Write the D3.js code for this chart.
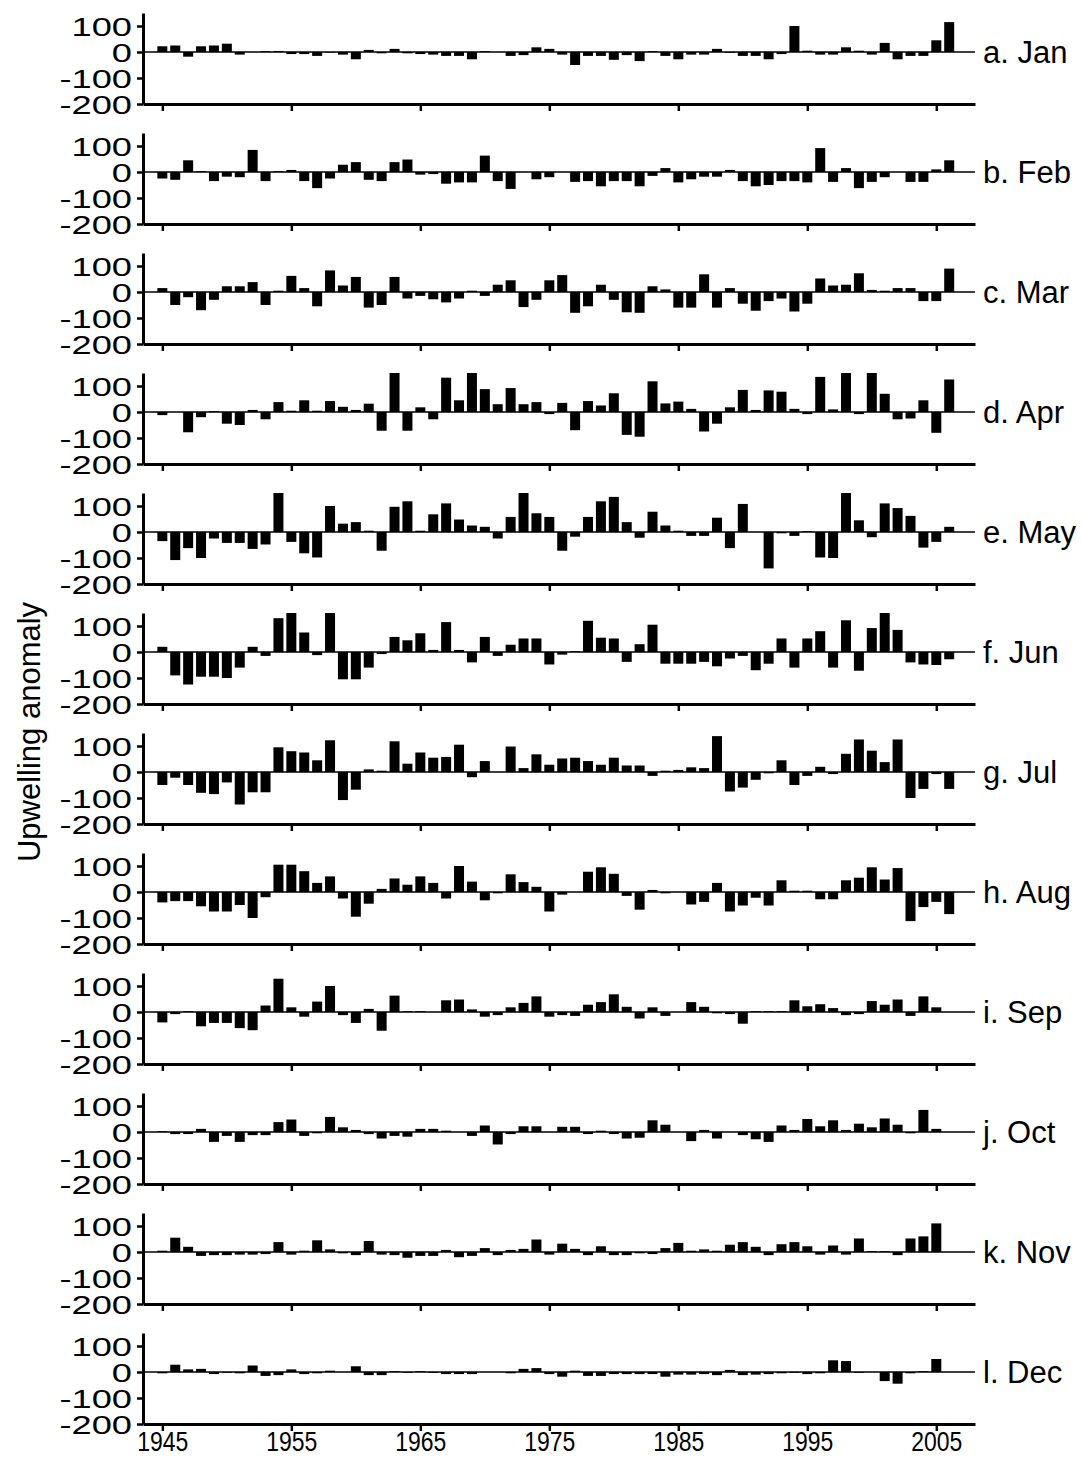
<!DOCTYPE html>
<html>
<head>
<meta charset="utf-8">
<script src="https://cdn.jsdelivr.net/npm/d3@7"></script>
<style>
  html, body { margin: 0; padding: 0; background: #fff; }
  svg { display: block; }
  text { font-family: "Liberation Sans", Arial, sans-serif; fill: #000; }
</style>
</head>
<body>
<svg id="chart" width="1082" height="1458"></svg>
<script>
// Monthly upwelling anomalies, one value per year from 1945 to 2006
const firstYear = 1945;
const jan = [22,25,-18,22,25,32,-10,0,3,4,-8,-8,-15,-2,-10,-28,8,-5,12,-5,-8,-10,-15,-15,-28,3,0,-15,-12,18,12,-10,-50,-15,-15,-30,-12,-35,3,-15,-28,-10,-10,12,-3,-15,-15,-28,-8,100,5,-10,-10,18,5,-10,35,-28,-15,-15,45,115];
const feb = [-25,-30,45,3,-35,-18,-20,85,-35,3,8,-35,-62,-25,28,38,-30,-35,38,48,-10,-8,-45,-40,-40,63,-35,-65,0,-28,-20,0,-38,-35,-55,-35,-35,-55,-15,15,-40,-28,-18,-18,8,-35,-55,-50,-35,-35,-40,92,-38,15,-62,-38,-20,0,-38,-38,10,45];
const mar = [15,-50,-20,-70,-30,22,22,38,-50,5,62,15,-55,83,25,58,-60,-50,58,-25,-15,-28,-40,-25,5,-15,28,45,-58,-30,45,65,-80,-55,28,-30,-78,-80,22,10,-60,-60,68,-60,15,-45,-72,-35,-25,-75,-45,52,25,28,72,8,5,15,15,-35,-35,90];
const apr = [-12,0,-78,-20,3,-45,-50,8,-28,38,5,45,5,42,20,8,32,-72,160,-72,18,-28,132,45,160,88,30,92,30,38,-8,35,-70,42,25,72,-88,-95,118,33,40,12,-75,-45,18,85,8,83,78,12,-8,135,10,160,-8,160,70,-28,-25,45,-80,125];
const may = [-35,-108,-62,-100,-25,-42,-42,-65,-48,160,-38,-82,-98,100,32,38,5,-72,97,118,5,68,110,48,25,20,-25,58,160,72,58,-72,-18,58,118,135,38,-22,78,25,5,-15,-15,55,-62,108,0,-140,-5,-15,3,-98,-100,160,45,-20,110,92,62,-60,-38,20];
const jun = [20,-90,-125,-95,-95,-100,-60,20,-15,130,160,75,-12,160,-105,-105,-60,-8,58,45,72,8,115,8,-40,58,-15,28,52,52,-48,-10,3,120,55,52,-38,30,105,-45,-45,-45,-38,-55,-25,-15,-70,-45,52,-60,52,80,-60,122,-72,92,160,85,-40,-48,-50,-28];
const jul = [-50,-22,-50,-80,-85,-40,-125,-78,-78,95,80,75,45,122,-108,-68,10,5,118,32,75,55,58,105,-20,42,0,98,15,68,28,52,55,42,28,55,25,25,-15,5,8,18,15,138,-75,-60,-30,-5,45,-50,-15,20,-8,70,125,82,38,125,-100,-65,-8,-65];
const aug = [-40,-35,-35,-55,-75,-75,-50,-100,-20,105,105,80,35,60,-25,-95,-45,12,52,28,60,35,-25,100,40,-32,-5,68,38,20,-75,-10,0,78,95,70,-15,-68,8,-5,0,-48,-38,35,-75,-52,-22,-52,45,5,5,-28,-28,45,55,95,48,92,-112,-58,-38,-85];
const sep = [-40,-8,3,-55,-42,-42,-62,-70,25,128,18,-18,40,100,-12,-42,12,-72,63,3,3,0,45,48,10,-18,-12,18,35,60,-18,-12,-15,28,38,68,20,-25,18,-15,0,38,20,-5,-8,-45,3,3,3,45,22,30,15,-12,-8,42,28,48,-15,60,18,0];
const oct = [3,-8,-8,12,-38,-15,-38,-12,-12,38,48,-15,-5,58,18,8,-8,-25,-15,-18,12,12,5,0,-15,25,-48,-8,22,22,0,20,20,-8,5,-8,-25,-22,45,28,0,-35,8,-25,0,-12,-28,-38,25,8,50,22,45,8,32,18,52,28,-5,85,12,0];
const nov = [5,55,20,-15,-12,-12,-10,-10,-8,38,-10,5,45,10,-5,-12,42,-10,-12,-22,-15,-15,8,-20,-15,15,-12,8,12,48,-10,32,12,-12,22,-12,-12,-5,-8,15,35,5,10,5,28,38,20,-12,30,38,22,-10,25,-10,52,3,3,-12,52,60,110,0];
const dec = [-5,28,10,12,-8,-3,-5,25,-15,-12,10,-8,-5,5,0,22,-12,-12,3,-3,3,-3,-8,-8,-8,0,0,-5,12,15,-8,-18,5,-15,-15,-8,-8,-8,-8,-18,-10,-10,-8,-12,8,-12,-10,-8,-5,-3,-8,-5,45,42,-3,0,-35,-45,-5,3,50,null];

const months = [jan, feb, mar, apr, may, jun, jul, aug, sep, oct, nov, dec];
const panelLabels = ["a. Jan","b. Feb","c. Mar","d. Apr","e. May","f. Jun","g. Jul","h. Aug","i. Sep","j. Oct","k. Nov","l. Dec"];
const yTickValues = [100, 0, -100, -200];
const xTickValues = [1945, 1955, 1965, 1975, 1985, 1995, 2005];
const yAxisTitle = "Upwelling anomaly";

const svg = d3.select("#chart");

// Layout
const left = 143, right = 975;
const panelTop = 13, panelStep = 120;
const yDomain = [-200, 150];
const panelHeight = 91;           // pixel span of yDomain
const barWidth = 10;

const x = d3.scaleLinear().domain([1943.5, 2008]).range([left, right]);

months.forEach((values, i) => {
  const top = panelTop + i * panelStep;
  const y = d3.scaleLinear().domain(yDomain).range([top + panelHeight, top]).clamp(true);
  const g = svg.append("g").attr("class", "panel");

  // bars
  const rows = values.map((v, k) => ({ year: firstYear + k, value: v })).filter(d => d.value !== null);
  g.append("g").selectAll("rect")
    .data(rows)
    .join("rect")
    .attr("x", d => x(d.year) - barWidth / 2)
    .attr("width", barWidth)
    .attr("y", d => Math.min(y(d.value), y(0)))
    .attr("height", d => Math.abs(y(d.value) - y(0)))
    .attr("fill", "#000");

  // zero line
  g.append("line")
    .attr("x1", left).attr("x2", right)
    .attr("y1", y(0)).attr("y2", y(0))
    .attr("stroke", "#000").attr("stroke-width", 1.5);

  // left axis
  const ya = g.append("g")
    .attr("transform", `translate(${left},0)`)
    .call(d3.axisLeft(y).tickValues(yTickValues).tickSize(6).tickSizeOuter(0));
  ya.select(".domain").attr("stroke-width", 3);
  ya.selectAll(".tick line").attr("stroke-width", 2.5);
  ya.selectAll(".tick text")
    .attr("x", null).attr("dy", null)
    .attr("font-family", null).attr("font-size", 25)
    .attr("transform", "translate(-11,9) scale(1.45,1)")
    .text(d => String(d));

  // bottom axis
  const xa = g.append("g")
    .attr("transform", `translate(0,${y(-200)})`)
    .call(d3.axisBottom(x).tickValues(xTickValues).tickSize(7).tickSizeOuter(0));
  xa.select(".domain").attr("stroke-width", 3);
  xa.selectAll(".tick line").attr("stroke-width", 2.5);
  if (i < months.length - 1) {
    xa.selectAll(".tick text").remove();
  } else {
    xa.selectAll(".tick text")
      .attr("y", null).attr("dy", null)
      .attr("font-family", null).attr("font-size", 28)
      .attr("transform", "translate(0,27) scale(0.82,1)")
      .text(d => String(d));
  }

  // panel label
  g.append("text")
    .attr("x", 983)
    .attr("y", y(0))
    .attr("dy", "0.36em")
    .attr("font-size", 31)
    .text(panelLabels[i]);
});

// y axis title
svg.append("text")
  .attr("transform", "translate(40,732) rotate(-90)")
  .attr("text-anchor", "middle")
  .attr("font-size", 31)
  .text(yAxisTitle);
</script>
</body>
</html>
